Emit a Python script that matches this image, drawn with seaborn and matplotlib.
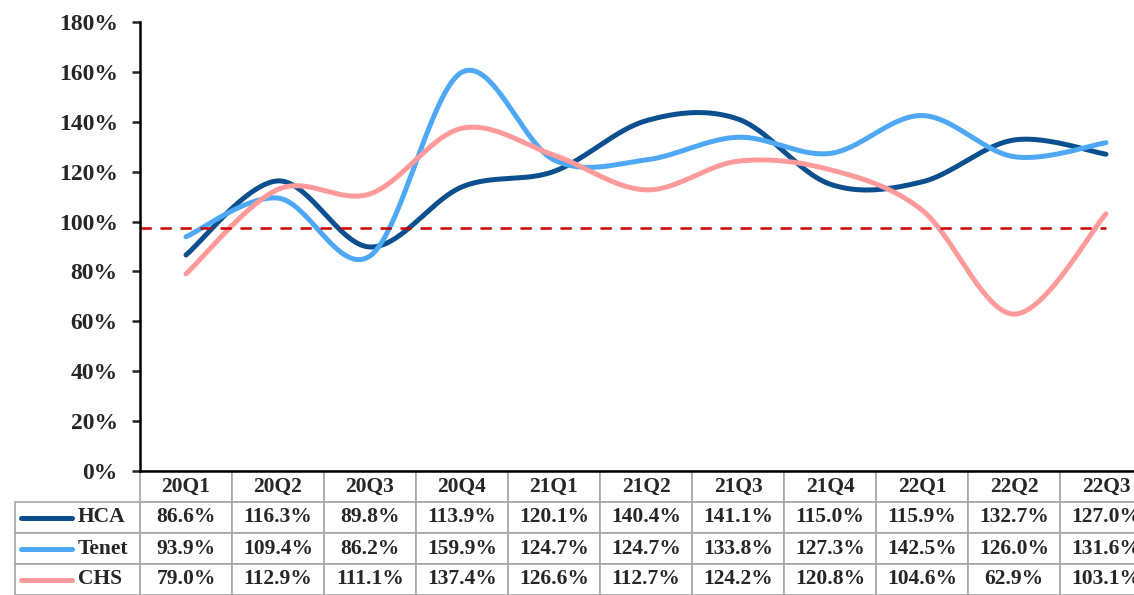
import numpy as np
import pandas as pd
import matplotlib
matplotlib.use("Agg")
import matplotlib.pyplot as plt
import seaborn as sns

quarters = ["20Q1", "20Q2", "20Q3", "20Q4", "21Q1", "21Q2", "21Q3", "21Q4", "22Q1", "22Q2", "22Q3"]
hca   = [86.6, 116.3, 89.8, 113.9, 120.1, 140.4, 141.1, 115.0, 115.9, 132.7, 127.0]
tenet = [93.9, 109.4, 86.2, 159.9, 124.7, 124.7, 133.8, 127.3, 142.5, 126.0, 131.6]
chs   = [79.0, 112.9, 111.1, 137.4, 126.6, 112.7, 124.2, 120.8, 104.6, 62.9, 103.1]
series_names = ["HCA", "Tenet", "CHS"]
threshold = 97.3

colors = {"HCA": "#0B4F8F", "Tenet": "#4EA8F5", "CHS": "#FF9A9A"}

sns.set_style("white")
plt.rcParams["font.family"] = ["Liberation Serif", "DejaVu Serif"]
plt.rcParams["font.weight"] = "bold"


def smooth(y, n=40):
    """Excel-like smoothed line: cubic Bezier segments through each point."""
    y = np.asarray(y, dtype=float)
    x = np.arange(len(y), dtype=float)
    p = np.column_stack([x, y])
    pts = []
    for i in range(len(p) - 1):
        p0 = p[i - 1] if i > 0 else p[i]
        p1, p2 = p[i], p[i + 1]
        p3 = p[i + 2] if i + 2 < len(p) else p[i + 1]
        c1 = p1 + (p2 - p0) / 6
        c2 = p2 - (p3 - p1) / 6
        t = np.linspace(0, 1, n, endpoint=(i == len(p) - 2))[:, None]
        seg = ((1 - t) ** 3) * p1 + 3 * ((1 - t) ** 2) * t * c1 + 3 * (1 - t) * t ** 2 * c2 + t ** 3 * p2
        pts.append(seg)
    pts = np.vstack(pts)
    return pts[:, 0], pts[:, 1]


frames = []
for name, vals in zip(series_names, [hca, tenet, chs]):
    xs, ys = smooth(vals)
    frames.append(pd.DataFrame({"x": xs, "y": ys, "company": name}))
curve = pd.concat(frames, ignore_index=True)

fig = plt.figure(figsize=(11.34, 5.95), dpi=100)
ax_w = 1012 / 1134
ax = fig.add_axes([140 / 1134, 1 - 471 / 595, ax_w, 449 / 595])

sns.lineplot(data=curve, x="x", y="y", hue="company", palette=colors,
             hue_order=series_names, linewidth=3.6, sort=False,
             estimator=None, legend=False, ax=ax)
for line in ax.get_lines():
    line.set_solid_capstyle("round")

ax.plot([-0.5, 10], [threshold, threshold], color="#CC0000", lw=1.8,
        linestyle=(0, (4.5, 3.5)))

ax.set_xlim(-0.5, 10.5)
ax.set_ylim(0, 180)
ax.set_yticks(np.arange(0, 181, 20))
ax.set_yticklabels([f"{v}%" for v in range(0, 181, 20)], fontsize=17, fontweight="bold")
ax.set_xticks([])
ax.set_xlabel("")
ax.set_ylabel("")
for s in ["top", "right"]:
    ax.spines[s].set_visible(False)
ax.spines["left"].set_linewidth(1.8)
ax.spines["bottom"].set_linewidth(1.8)
ax.spines["left"].set_color("black")
ax.spines["bottom"].set_color("black")
ax.tick_params(axis="y", direction="out", length=6, width=1.8, pad=10, left=True)

# data table below the plot
hdr_h = 31 / 449
row_h = 31 / 449
cell_text = [[f"{v:.1f}%" for v in vals] for vals in [hca, tenet, chs]]
tbl = ax.table(cellText=cell_text, colLabels=quarters, cellLoc="center",
               bbox=[0, -(hdr_h + 3 * row_h), 1, hdr_h + 3 * row_h])
tbl.auto_set_font_size(False)
for (r, c), cell in tbl.get_celld().items():
    cell.set_edgecolor("#A6A6A6")
    cell.set_linewidth(1.2)
    cell.get_text().set_fontsize(15.5)
    cell.get_text().set_fontweight("bold")

lab_w = 125 / 1012
lab = ax.table(cellText=[[""] for _ in series_names], cellLoc="left",
               bbox=[-lab_w, -(hdr_h + 3 * row_h), lab_w, 3 * row_h])
for (r, c), cell in lab.get_celld().items():
    cell.set_edgecolor("#A6A6A6")
    cell.set_linewidth(1.2)

for i, name in enumerate(series_names):
    yc = -hdr_h - (i + 0.5) * row_h
    ax.plot([-lab_w + 6 / 1012, -lab_w + 57 / 1012], [yc, yc], transform=ax.transAxes,
            color=colors[name], lw=3.6, solid_capstyle="round", clip_on=False)
    ax.text(-lab_w + 63 / 1012, yc, name, transform=ax.transAxes, ha="left",
            va="center", fontsize=15.5, fontweight="bold")

fig.savefig("out.png", dpi=100)
